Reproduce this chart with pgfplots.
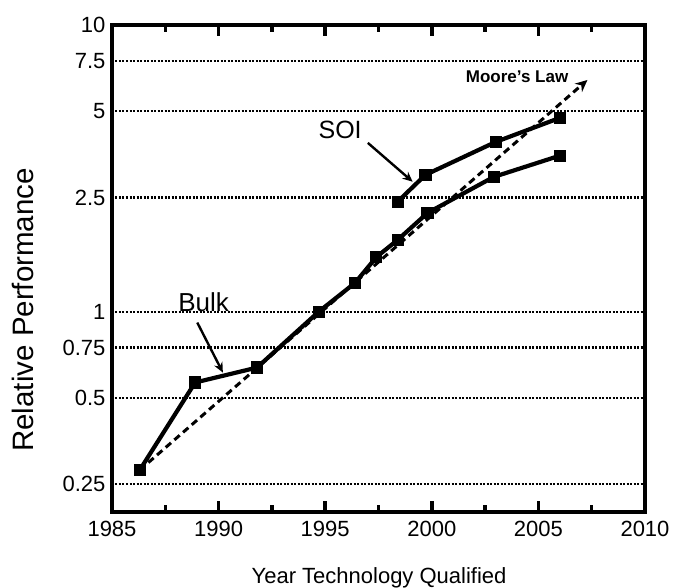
\documentclass[border=0pt]{standalone}
\usepackage{pgfplots}
\pgfplotsset{compat=1.18}
\usepackage{fontspec}
\setmainfont{Liberation Sans}
\usetikzlibrary{arrows.meta}
\begin{document}
\begin{tikzpicture}
\begin{axis}[
  at={(0,0)}, anchor=south west,
  scale only axis, width=533pt, height=487pt,
  xmin=1985, xmax=2010, ymin=0.2, ymax=10, ymode=log,
  xtick={1985,1990,1995,2000,2005,2010},
  xticklabels={1985,1990,1995,2000,2005,2010},
  minor x tick num=1,
  ytick={0.25,0.5,0.75,1,2.5,5,7.5,10},
  yticklabels={0.25,0.5,0.75,1,2.5,5,7.5,10},
  yminorticks=false,
  tick label style={font=\fontsize{22}{26}\selectfont, black},
  xticklabel style={yshift=-6pt},
  yticklabel style={xshift=-3pt},
  tick align=inside,
  major tick length=11pt, minor tick length=7pt,
  xtick style={black, line width=3.5pt},
  ytick style={draw=none},
  ymajorgrids,
  grid style={black, line width=2.2pt, dash pattern=on 2pt off 1.5pt},
  axis line style={line width=3.5pt},
  xlabel={Year Technology Qualified},
  ylabel={Relative Performance},
  xlabel style={font=\fontsize{22}{26}\selectfont, at={(axis description cs:0.501,-0.1355)}, anchor=center},
  ylabel style={font=\fontsize{29.5}{33}\selectfont, at={(axis description cs:-0.167,0.415)}, anchor=center, rotate=0},
  clip=false,
]
% Moore's law trend
\addplot[black, line width=3pt, dash pattern=on 7pt off 4.5pt, -{Stealth[length=12pt,width=11pt]}]
  coordinates {(1986.3,0.28) (2007.3,6.43)};
% Bulk
\addplot[black, line width=4.2pt, mark=square*, mark size=4pt, mark options={solid}]
  coordinates {
   (1986.3,0.28) (1988.9,0.566) (1991.8,0.638) (1994.7,1.0) (1996.4,1.26)
   (1997.4,1.55) (1998.4,1.78) (1999.8,2.21) (2002.9,2.95) (2006.0,3.5)
  };
% SOI
\addplot[black, line width=4.2pt, mark=square*, mark size=4pt, mark options={solid}]
  coordinates {
   (1998.4,2.42) (1999.7,3.0) (2003.0,3.91) (2006.0,4.74)
  };
% annotations
\node[font=\fontsize{25}{30}\selectfont] at (axis cs:1995.7,4.31) {SOI};
\draw[black, line width=2.4pt, -{Stealth[length=10pt,width=9pt]}] (axis cs:1997.0,3.88) -- (axis cs:1999.1,2.84);
\node[font=\fontsize{26}{30}\selectfont] at (axis cs:1989.3,1.08) {Bulk};
\draw[black, line width=2.4pt, -{Stealth[length=10pt,width=9pt]}] (axis cs:1989.0,0.916) -- (axis cs:1990.2,0.613);
\node[font=\fontsize{17}{20}\selectfont\bfseries, inner sep=0pt] at (axis cs:2004.0,6.58) {Moore's Law};
\draw[black, line width=3.5pt] (rel axis cs:0,0) rectangle (rel axis cs:1,1);
\end{axis}
\pgfresetboundingbox
\path[use as bounding box] (-112pt,-76pt) rectangle (562pt,512pt);
\end{tikzpicture}
\end{document}
